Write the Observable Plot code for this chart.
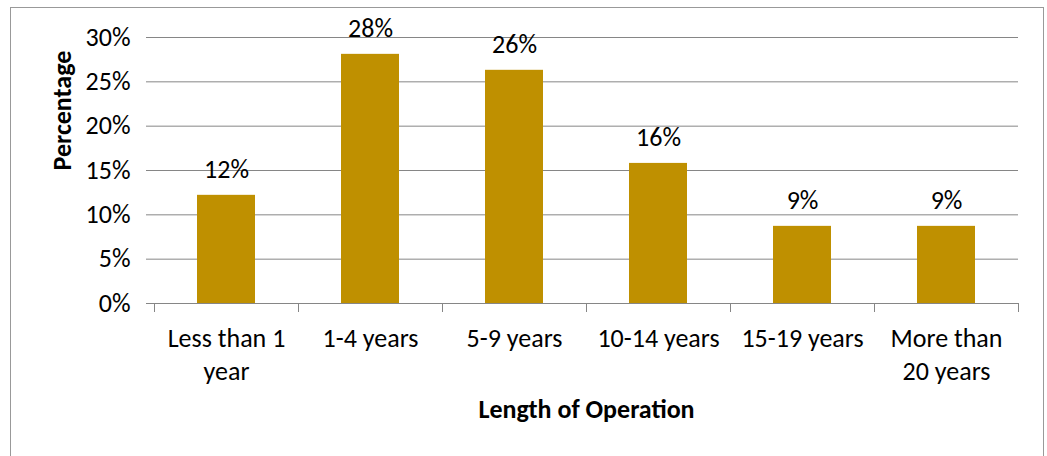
<!DOCTYPE html>
<html>
<head>
<meta charset="utf-8">
<script src="https://cdn.jsdelivr.net/npm/d3@7"></script>
<script src="https://cdn.jsdelivr.net/npm/@observablehq/plot@0.6"></script>
<style>
  html, body { margin: 0; padding: 0; background: #fff; }
  #wrap { position: relative; width: 1047px; height: 456px; overflow: hidden; }
  #frame { position: absolute; left: 10px; top: 7px; width: 1034px; height: 460px; border: 1px solid #999; box-sizing: border-box; pointer-events: none; }
  svg { font-family: "Carlito", "Liberation Sans Narrow", "Open Sans", sans-serif; }
</style>
</head>
<body>
<div id="wrap"><div id="frame"></div></div>
<script>
const categories = ["Less than 1\nyear", "1-4 years", "5-9 years", "10-14 years", "15-19 years", "More than\n20 years"];
const values = [12.2, 28.1, 26.3, 15.8, 8.7, 8.7];
const valueLabels = ["12%", "28%", "26%", "16%", "9%", "9%"];
const yTicks = [0, 5, 10, 15, 20, 25, 30];

const data = categories.map((c, i) => ({category: c, value: values[i], label: valueLabels[i]}));

const W = 1047, H = 456;
const mL = 154, mR = 29, mT = 37, mB = 153;
const step = (W - mL - mR) / categories.length;
const grid = "#868686";
const font = "Carlito, 'Liberation Sans Narrow', 'Open Sans', sans-serif";
const fs = 26;

const chart = Plot.plot({
  width: W,
  height: H,
  marginLeft: mL,
  marginRight: mR,
  marginTop: mT,
  marginBottom: mB,
  style: {fontFamily: font, fontSize: fs + "px", color: "#000", background: "transparent"},
  x: {domain: categories, paddingInner: 0.6, paddingOuter: 0.3, label: null},
  y: {domain: [0, 30], label: null},
  marks: [
    Plot.ruleY(yTicks, {y: d => d, stroke: grid, strokeWidth: 1}),
    Plot.ruleX(categories, {x: d => d, dx: -step / 2, y1: 0, y2: 0, insetBottom: -9, stroke: grid}),
    Plot.ruleX(categories.slice(-1), {x: d => d, dx: step / 2, y1: 0, y2: 0, insetBottom: -9, stroke: grid}),
    Plot.ruleX([0], {frameAnchor: "left", stroke: grid}),
    Plot.barY(data, {x: "category", y: "value", fill: "#BF9000"}),
    Plot.text(data, {x: "category", y: "value", text: "label", dy: -17, lineAnchor: "bottom", fontSize: fs, fill: "#000"}),
    Plot.axisY({ticks: yTicks, tickFormat: d => d + "%", tickSize: 8, stroke: grid, tickPadding: 16, fontSize: fs, label: null}),
    Plot.axisX({tickSize: 0, tickPadding: 19, fontSize: fs, lineHeight: 1.3, label: null, lineAnchor: "top"}),
    Plot.text(["Length of Operation"], {frameAnchor: "bottom", dy: 114, text: d => d, fontWeight: "bold", fontSize: fs}),
    Plot.text(["Percentage"], {frameAnchor: "left", dx: -92, rotate: -90, text: d => d, fontWeight: "bold", fontSize: fs})
  ]
});

document.getElementById("wrap").prepend(chart);
</script>
</body>
</html>
